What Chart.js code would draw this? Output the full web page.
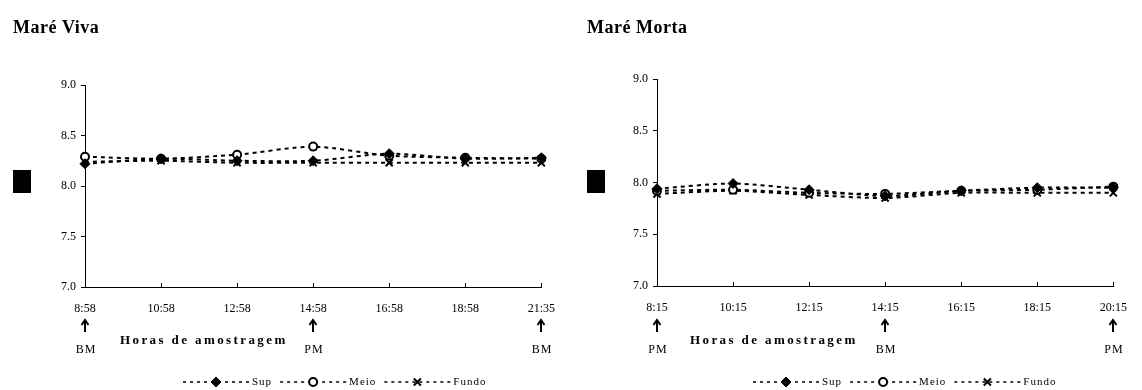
<!DOCTYPE html>
<html>
<head>
<meta charset="utf-8">
<script src="https://cdn.jsdelivr.net/npm/chart.js@4/dist/chart.umd.min.js"></script>
<style>
  body { margin: 0; background: #fff; }
  #wrap { position: relative; width: 1142px; height: 390px; }
  canvas { position: absolute; top: 0; }
</style>
</head>
<body>
<div id="wrap">
  <canvas id="viva" width="570" height="390" style="left:0"></canvas>
  <canvas id="morta" width="572" height="390" style="left:570px"></canvas>
</div>
<script>
// Maré Viva
const vivaHoras = ["8:58", "10:58", "12:58", "14:58", "16:58", "18:58", "21:35"];
const vivaSup   = [8.22, 8.27, 8.25, 8.25, 8.32, 8.27, 8.28];
const vivaMeio  = [8.29, 8.27, 8.31, 8.39, 8.30, 8.28, 8.27];
const vivaFundo = [8.24, 8.25, 8.23, 8.23, 8.23, 8.23, 8.23];
const vivaMare  = ["BM", "", "", "PM", "", "", "BM"];

// Maré Morta
const mortaHoras = ["8:15", "10:15", "12:15", "14:15", "16:15", "18:15", "20:15"];
const mortaSup   = [7.94, 7.99, 7.93, 7.87, 7.92, 7.95, 7.95];
const mortaMeio  = [7.92, 7.93, 7.90, 7.89, 7.92, 7.93, 7.96];
const mortaFundo = [7.89, 7.92, 7.88, 7.85, 7.90, 7.90, 7.90];
const mortaMare  = ["PM", "", "", "BM", "", "", "PM"];

const yTicks = [7.0, 7.5, 8.0, 8.5, 9.0];

const SERIF = '"Liberation Serif", "Times New Roman", serif';
Chart.defaults.font.family = SERIF;
Chart.defaults.color = "#000";

// titles, arrows, axis title, inward x ticks and legend
const extras = {
  id: "extras",
  afterDraw(chart, args, opts) {
    const ctx = chart.ctx;
    const xs = chart.scales.x;
    const area = chart.chartArea;
    ctx.save();
    ctx.fillStyle = "#000";
    ctx.strokeStyle = "#000";

    ctx.font = "bold 18px " + SERIF;
    ctx.textAlign = "left";
    ctx.textBaseline = "alphabetic";
    ctx.letterSpacing = "0.5px";
    ctx.fillText(opts.titulo, opts.left, 33);

    // y axis title shows as a solid box in the source
    ctx.fillRect(opts.left, 170, 18, 23);

    ctx.lineWidth = 1;
    xs.ticks.forEach((t, i) => {
      const px = Math.round(xs.getPixelForTick(i)) + 0.5;
      ctx.beginPath();
      ctx.moveTo(px, area.bottom);
      ctx.lineTo(px, area.bottom - 4);
      ctx.stroke();
    });

    ctx.font = "12px " + SERIF;
    ctx.textAlign = "center";
    ctx.textBaseline = "middle";
    ctx.letterSpacing = "1px";
    opts.mare.forEach((m, i) => {
      if (!m) return;
      const px = Math.round(xs.getPixelForValue(i));
      ctx.lineWidth = 2;
      ctx.beginPath();
      ctx.moveTo(px, 332);
      ctx.lineTo(px, 321);
      ctx.stroke();
      ctx.beginPath();
      ctx.moveTo(px - 3.5, 325);
      ctx.lineTo(px, 320);
      ctx.lineTo(px + 3.5, 325);
      ctx.stroke();
      ctx.fillText(m, px + 1, 350);
    });

    ctx.font = "bold 13px " + SERIF;
    ctx.textAlign = "left";
    ctx.letterSpacing = "2.4px";
    ctx.fillText("Horas de amostragem", 120, 341);

    // legend
    let lx = 183;
    const ly = 382;
    ctx.font = "11px " + SERIF;
    ctx.letterSpacing = "1px";
    chart.data.datasets.forEach(ds => {
      ctx.lineWidth = 1.5;
      ctx.setLineDash([3, 4]);
      ctx.beginPath();
      ctx.moveTo(lx, ly);
      ctx.lineTo(lx + 66, ly);
      ctx.stroke();
      ctx.setLineDash([]);
      ctx.fillStyle = ds.pointBackgroundColor;
      ctx.strokeStyle = ds.pointBorderColor;
      ctx.lineWidth = ds.pointBorderWidth;
      Chart.helpers.drawPoint(ctx, {
        pointStyle: ds.pointStyle, radius: ds.pointRadius,
        borderWidth: ds.pointBorderWidth, rotation: 0
      }, lx + 33, ly);
      ctx.fillStyle = "#000";
      ctx.strokeStyle = "#000";
      ctx.fillText(ds.label, lx + 69, ly);
      lx += 69 + ctx.measureText(ds.label).width + 8;
    });
    ctx.restore();
  }
};

function serie(label, data, estilo) {
  return Object.assign({
    label: label,
    data: data,
    borderColor: "#000",
    borderWidth: 2,
    borderDash: [4, 4],
    tension: 0.25,
    fill: false,
    pointBorderColor: "#000",
    pointBackgroundColor: "#000",
    pointBorderWidth: 1
  }, estilo);
}

function grafico(id, titulo, horas, sup, meio, fundo, mare, box) {
  const canvas = document.getElementById(id);
  const W = canvas.width, H = canvas.height;
  return new Chart(canvas, {
    type: "line",
    data: {
      labels: horas,
      datasets: [
        serie("Sup", sup, { pointStyle: "rectRot", pointRadius: 5 }),
        serie("Meio", meio, { pointStyle: "circle", pointRadius: 4, pointBackgroundColor: "#fff", pointBorderWidth: 2 }),
        serie("Fundo", fundo, { pointStyle: "crossRot", pointRadius: 5, pointBorderWidth: 2 })
      ]
    },
    options: {
      responsive: false,
      animation: false,
      devicePixelRatio: 1,
      layout: { padding: { top: box.top, right: W - box.right, left: 0, bottom: 0 } },
      plugins: {
        legend: { display: false },
        tooltip: { enabled: false },
        extras: { titulo: titulo, mare: mare, left: box.textLeft }
      },
      scales: {
        x: {
          type: "category",
          offset: false,
          grid: { drawOnChartArea: false, drawTicks: false },
          border: { color: "#000", width: 1 },
          ticks: { font: { size: 12 }, color: "#000", padding: 15, maxRotation: 0, autoSkip: false },
          afterFit(s) { s.height = H - box.bottom; }
        },
        y: {
          min: 7,
          max: 9,
          afterBuildTicks(s) { s.ticks = yTicks.map(v => ({ value: v })); },
          grid: { drawOnChartArea: false, tickLength: 4, color: "#000" },
          border: { color: "#000", width: 1 },
          ticks: { font: { size: 12 }, color: "#000", padding: 5, callback: v => v.toFixed(1) },
          afterFit(s) { s.width = box.left; }
        }
      }
    },
    plugins: [extras]
  });
}

grafico("viva", "Maré Viva", vivaHoras, vivaSup, vivaMeio, vivaFundo, vivaMare,
  { left: 85, right: 552, top: 85, bottom: 287, textLeft: 13 });
grafico("morta", "Maré Morta", mortaHoras, mortaSup, mortaMeio, mortaFundo, mortaMare,
  { left: 87, right: 557, top: 79, bottom: 286, textLeft: 17 });
</script>
</body>
</html>
